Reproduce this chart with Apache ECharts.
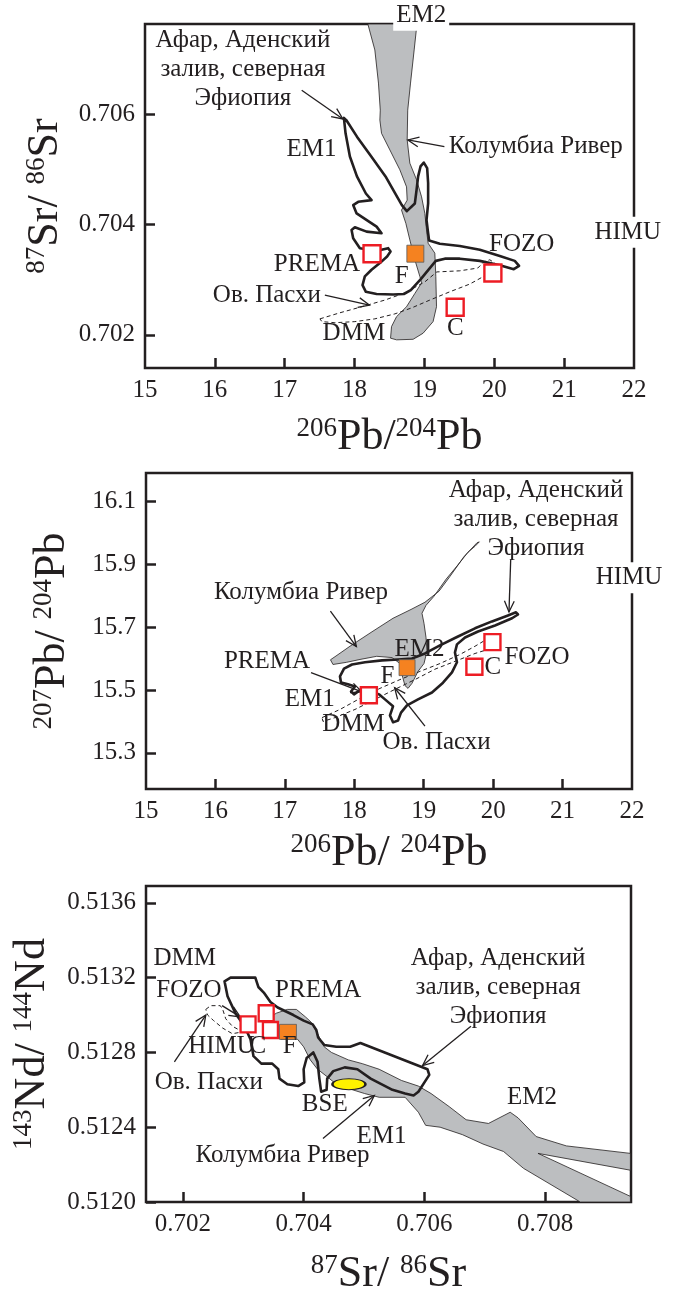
<!DOCTYPE html>
<html>
<head>
<meta charset="utf-8">
<script src="https://cdn.jsdelivr.net/npm/echarts@6/dist/echarts.min.js"></script>
<style>
  html, body { margin: 0; padding: 0; background: #fff; }
  #chart { width: 683px; height: 1292px; }
</style>
</head>
<body>
<div id="chart"></div>
<script>
// --- panel 1: 206Pb/204Pb vs 87Sr/86Sr ---
const srPbColumbia = [
  [18.19, 0.70763], [18.29, 0.70716], [18.342, 0.70656], [18.368, 0.70607], [18.362, 0.70589],
  [18.386, 0.70565], [18.505, 0.70535], [18.648, 0.70499], [18.744, 0.70468], [18.753, 0.70444],
  [18.672, 0.70426], [18.734, 0.70402], [18.791, 0.70372], [18.863, 0.70336], [18.934, 0.70306],
  [18.959, 0.70294], [18.863, 0.70275], [18.744, 0.70251], [18.601, 0.70233], [18.529, 0.70215],
  [18.515, 0.70194], [18.601, 0.70191], [18.838, 0.70192], [18.981, 0.70203], [19.124, 0.70224],
  [19.173, 0.70251], [19.163, 0.70306], [19.149, 0.70348], [19.053, 0.70366], [19.030, 0.70390],
  [19.006, 0.70420], [18.959, 0.70450], [18.887, 0.70481], [18.791, 0.70511], [18.753, 0.70553],
  [18.761, 0.70607], [18.801, 0.70656], [18.853, 0.70716], [18.893, 0.70763]
];
const srPbAfar = [
  [17.847, 0.70593], [17.881, 0.70589], [18.034, 0.70559], [18.239, 0.70523], [18.443, 0.70487],
  [18.577, 0.70457], [18.677, 0.70435], [18.748, 0.70424], [18.863, 0.70438], [18.887, 0.70462],
  [18.910, 0.70487], [18.944, 0.70505], [18.991, 0.70512], [19.039, 0.70502], [19.053, 0.70475],
  [19.053, 0.70438], [19.030, 0.70408], [19.053, 0.70384], [19.067, 0.70371], [19.220, 0.70365],
  [19.506, 0.70361], [19.793, 0.70354], [20.079, 0.70343], [20.293, 0.70334], [20.355, 0.70325],
  [20.279, 0.70319], [20.079, 0.70326], [19.793, 0.70334], [19.506, 0.70338], [19.292, 0.70338],
  [19.163, 0.70334], [19.077, 0.70321], [18.948, 0.70301], [18.805, 0.70281], [18.705, 0.70274],
  [18.552, 0.70273], [18.315, 0.70274], [18.162, 0.70278], [18.114, 0.70290], [18.147, 0.70306],
  [18.243, 0.70318], [18.362, 0.70330], [18.466, 0.70342], [18.515, 0.70351], [18.481, 0.70357],
  [18.386, 0.70354], [18.219, 0.70354], [18.076, 0.70357], [17.980, 0.70375], [17.957, 0.70390],
  [18.004, 0.70395], [18.172, 0.70387], [18.386, 0.70384], [18.315, 0.70396], [18.029, 0.70420],
  [17.980, 0.70435], [18.052, 0.70441], [18.243, 0.70444], [18.162, 0.70456], [18.034, 0.70487],
  [17.933, 0.70523], [17.871, 0.70565]
];
const srPbEaster = [
  [17.504, 0.70229], [17.790, 0.70240], [18.104, 0.70251], [18.433, 0.70263], [18.720, 0.70276],
  [19.006, 0.70296], [19.177, 0.70314], [19.506, 0.70316], [19.764, 0.70321], [19.850, 0.70332],
  [19.936, 0.70336], [20.007, 0.70330], [19.964, 0.70318], [19.864, 0.70307], [19.649, 0.70292],
  [19.363, 0.70278], [19.077, 0.70263], [18.820, 0.70249], [18.577, 0.70238], [18.290, 0.70229],
  [18.004, 0.70224], [17.718, 0.70222], [17.532, 0.70224]
];
const srPbRed = [[18.25, 0.70347], [19.98, 0.70312], [19.44, 0.70250]];
const srPbOrange = [[18.87, 0.70347]];
const srPbLabels = [
  [16.402, 0.70680, 'Афар, Аденский\nзалив, северная\nЭфиопия'],
  [17.383, 0.70535, 'EM1'],
  [20.594, 0.70541, 'Колумбиа Ривер'],
  [20.393, 0.70363, 'FOZO'],
  [17.461, 0.70327, 'PREMA'],
  [18.674, 0.70306, 'F'],
  [16.745, 0.70272, 'Ов. Пасхи'],
  [17.990, 0.70203, 'DMM'],
  [19.441, 0.70212, 'C']
];
const srPbBoxedLabels = [
  [18.954, 0.70779, 'EM2'],
  [21.910, 0.70386, 'HIMU']
];
const srPbArrows = [
  [17.243, 0.70643, 17.833, 0.70591],
  [19.286, 0.70541, 18.763, 0.70553],
  [17.575, 0.70272, 18.213, 0.70254]
];
const srPbXTicks = [16, 17, 18, 19, 20, 21];
const srPbXLabels = [15, 16, 17, 18, 19, 20, 21, 22];
const srPbYTicks = [0.702, 0.704, 0.706];

// --- panel 2: 206Pb/204Pb vs 207Pb/204Pb ---
const pbPbColumbia = [
  [17.657, 15.596], [17.693, 15.581], [17.891, 15.588], [18.082, 15.597], [18.323, 15.607],
  [18.543, 15.603], [18.658, 15.584], [18.687, 15.549], [18.730, 15.514], [18.774, 15.505],
  [18.831, 15.521], [18.918, 15.559], [19.004, 15.584], [19.047, 15.623], [19.033, 15.667],
  [19.004, 15.712], [18.975, 15.744], [19.033, 15.769], [19.148, 15.798], [19.321, 15.852],
  [19.479, 15.894], [19.638, 15.938], [19.739, 15.957], [19.801, 15.971], [19.767, 15.968],
  [19.580, 15.924], [19.378, 15.861], [19.220, 15.814], [19.018, 15.779], [18.817, 15.756],
  [18.558, 15.728], [18.241, 15.683], [17.938, 15.639], [17.737, 15.608]
];
const pbPbAfar = [
  [17.794, 15.543], [17.852, 15.568], [17.967, 15.581], [18.154, 15.588], [18.399, 15.594],
  [18.630, 15.597], [18.831, 15.600], [19.019, 15.616], [19.234, 15.642], [19.494, 15.670],
  [19.739, 15.696], [19.983, 15.718], [20.214, 15.737], [20.329, 15.747], [20.358, 15.740],
  [20.272, 15.728], [20.027, 15.705], [19.782, 15.686], [19.595, 15.667], [19.479, 15.645],
  [19.450, 15.619], [19.479, 15.588], [19.407, 15.556], [19.278, 15.523], [19.119, 15.492],
  [18.918, 15.470], [18.759, 15.451], [18.673, 15.428], [18.630, 15.403], [18.558, 15.397],
  [18.514, 15.419], [18.558, 15.448], [18.442, 15.470], [18.356, 15.486], [18.226, 15.498],
  [18.097, 15.502], [17.996, 15.486], [17.953, 15.495], [18.010, 15.511], [17.909, 15.518],
  [17.809, 15.524]
];
const pbPbEaster = [
  [17.535, 15.412], [17.794, 15.438], [18.082, 15.473], [18.370, 15.505], [18.658, 15.533],
  [18.946, 15.559], [19.234, 15.584], [19.523, 15.613], [19.739, 15.639], [19.883, 15.658],
  [19.955, 15.661], [19.998, 15.645], [19.926, 15.629], [19.739, 15.616], [19.450, 15.591],
  [19.162, 15.566], [18.874, 15.533], [18.586, 15.502], [18.298, 15.470], [18.010, 15.438],
  [17.722, 15.412], [17.549, 15.400]
];
const pbPbRed = [[18.21, 15.483], [19.99, 15.652], [19.73, 15.574]];
const pbPbOrange = [[18.76, 15.571]];
const pbPbLabels = [
  [20.617, 16.043, 'Афар, Аденский\nзалив, северная\nЭфиопия'],
  [17.232, 15.810, 'Колумбиа Ривер'],
  [16.743, 15.592, 'PREMA'],
  [17.359, 15.470, 'EM1'],
  [17.990, 15.390, 'DMM'],
  [19.186, 15.332, 'Ов. Пасхи'],
  [18.941, 15.629, 'EM2'],
  [18.478, 15.544, 'F'],
  [20.632, 15.603, 'FOZO'],
  [19.996, 15.571, 'C']
];
const pbPbBoxedLabels = [[21.957, 15.857, 'HIMU']];
const pbPbArrows = [
  [20.253, 15.916, 20.228, 15.748],
  [17.656, 15.751, 18.030, 15.638],
  [17.377, 15.555, 18.111, 15.494],
  [19.018, 15.385, 18.581, 15.507]
];
const pbPbXTicks = [16, 17, 18, 19, 20, 21];
const pbPbXLabels = [15, 16, 17, 18, 19, 20, 21, 22];
const pbPbYTicks = [15.3, 15.5, 15.7, 15.9, 16.1];

// --- panel 3: 87Sr/86Sr vs 143Nd/144Nd ---
const ndSrColumbia = [
  [0.70345, 0.51299], [0.70355, 0.51301], [0.70373, 0.51303], [0.70388, 0.51303], [0.70403, 0.51299],
  [0.70413, 0.51296], [0.70423, 0.51290], [0.70434, 0.51283], [0.70446, 0.51280], [0.70474, 0.51276],
  [0.70497, 0.51274], [0.70525, 0.51271], [0.70562, 0.51265], [0.70590, 0.51262], [0.70611, 0.51258],
  [0.70641, 0.51251], [0.70669, 0.51244], [0.70706, 0.51242], [0.70742, 0.51248], [0.70755, 0.51245],
  [0.70785, 0.51235], [0.70835, 0.51230], [0.70941, 0.51226], [0.70941, 0.51217], [0.70788, 0.51226],
  [0.70941, 0.51203], [0.70941, 0.51200], [0.70858, 0.51200], [0.70764, 0.51218], [0.70731, 0.51227],
  [0.70697, 0.51231], [0.70663, 0.51236], [0.70626, 0.51240], [0.70602, 0.51241], [0.70590, 0.51248],
  [0.70568, 0.51256], [0.70525, 0.51256], [0.70501, 0.51258], [0.70481, 0.51260], [0.70454, 0.51263],
  [0.70439, 0.51267], [0.70423, 0.51271], [0.70411, 0.51276], [0.70400, 0.51283], [0.70390, 0.51287],
  [0.70362, 0.51287], [0.70348, 0.51292]
];
const ndSrAfar = [
  [0.70269, 0.51318], [0.70279, 0.51320], [0.70320, 0.51320], [0.70325, 0.51315], [0.70334, 0.51312],
  [0.70345, 0.51307], [0.70357, 0.51304], [0.70383, 0.51300], [0.70400, 0.51297], [0.70415, 0.51295],
  [0.70421, 0.51292], [0.70424, 0.51288], [0.70434, 0.51284], [0.70454, 0.51283], [0.70477, 0.51283],
  [0.70494, 0.51285], [0.70605, 0.51271], [0.70608, 0.51268], [0.70590, 0.51259], [0.70582, 0.51257],
  [0.70568, 0.51258], [0.70547, 0.51260], [0.70511, 0.51266], [0.70489, 0.51271], [0.70468, 0.51272],
  [0.70449, 0.51270], [0.70439, 0.51266], [0.70438, 0.51260], [0.70429, 0.51259], [0.70426, 0.51266],
  [0.70423, 0.51275], [0.70416, 0.51280], [0.70405, 0.51277], [0.70400, 0.51271], [0.70401, 0.51264],
  [0.70391, 0.51262], [0.70373, 0.51263], [0.70360, 0.51266], [0.70358, 0.51271], [0.70348, 0.51274],
  [0.70330, 0.51274], [0.70317, 0.51278], [0.70312, 0.51287], [0.70302, 0.51294], [0.70287, 0.51301],
  [0.70274, 0.51310]
];
const ndSrEaster = [
  [0.70238, 0.51303], [0.70246, 0.51305], [0.70262, 0.51305], [0.70266, 0.51303], [0.70271, 0.51298],
  [0.70282, 0.51294], [0.70299, 0.51291], [0.70282, 0.51290], [0.70266, 0.51293], [0.70251, 0.51297],
  [0.70241, 0.51300]
];
const ndSrRed = [[0.70308, 0.51295], [0.70338, 0.51301], [0.70345, 0.51292]];
const ndSrOrange = [[0.70374, 0.51291]];
const ndSrBse = [[0.70475, 0.51263]];
const ndSrLabels = [
  [0.70722, 0.51315, 'Афар, Аденский\nзалив, северная\nЭфиопия'],
  [0.70203, 0.51330, 'DMM'],
  [0.70210, 0.51313, 'FOZO'],
  [0.70424, 0.51313, 'PREMA'],
  [0.70264, 0.51283, 'HIMU'],
  [0.70324, 0.51283, 'C'],
  [0.70377, 0.51283, 'F'],
  [0.70243, 0.51264, 'Ов. Пасхи'],
  [0.70435, 0.51252, 'BSE'],
  [0.70529, 0.51235, 'EM1'],
  [0.70365, 0.51225, 'Колумбиа Ривер'],
  [0.70778, 0.51256, 'EM2']
];
const ndSrArrows = [
  [0.70265, 0.51305, 0.70295, 0.51299],
  [0.70186, 0.51275, 0.70238, 0.51300],
  [0.70432, 0.51234, 0.70517, 0.51257],
  [0.70677, 0.51294, 0.70597, 0.51273]
];
const ndSrXTicks = [0.702, 0.704, 0.706, 0.708];
const ndSrYTicks = [0.5120, 0.5124, 0.5128, 0.5132, 0.5136];

const INK = '#231f20';
const FONT = '"Liberation Serif", "Times New Roman", serif';
const GRAY = '#bcbec0';

function titleStyle(mainSize, supSize) {
  return {
    color: INK, fontFamily: FONT,
    rich: {
      sup: { fontSize: supSize, fontFamily: FONT, color: INK, verticalAlign: 'top', lineHeight: mainSize },
      main: { fontSize: mainSize, fontFamily: FONT, color: INK, verticalAlign: 'bottom', lineHeight: mainSize }
    }
  };
}

function axis(gi, min, max, ticks, labels, digits, extra) {
  return Object.assign({
    type: 'value', gridIndex: gi, min: min, max: max,
    axisLine: { show: false },
    splitLine: { show: false },
    axisTick: { show: true, inside: true, length: 10, customValues: ticks, lineStyle: { color: INK, width: 2.5 } },
    axisLabel: {
      customValues: labels, color: INK, fontFamily: FONT, fontSize: 25, margin: 10,
      formatter: v => v.toFixed(digits)
    }
  }, extra);
}

function polygon(gi, pts, style, z) {
  return {
    type: 'custom', xAxisIndex: gi, yAxisIndex: gi, silent: true, z: z,
    data: [pts[0]],
    renderItem: (params, api) => ({
      type: 'polygon',
      shape: { points: pts.map(p => api.coord(p)) },
      style: style
    })
  };
}

function arrows(gi, list) {
  return {
    type: 'custom', xAxisIndex: gi, yAxisIndex: gi, silent: true, z: 4,
    data: list,
    renderItem: (params, api) => {
      const a = api.coord([api.value(0), api.value(1)]);
      const b = api.coord([api.value(2), api.value(3)]);
      const ang = Math.atan2(b[1] - a[1], b[0] - a[0]);
      const h = 12, s = 0.42;
      const p1 = [b[0] - h * Math.cos(ang - s), b[1] - h * Math.sin(ang - s)];
      const p2 = [b[0] - h * Math.cos(ang + s), b[1] - h * Math.sin(ang + s)];
      return {
        type: 'group',
        children: [
          { type: 'line', shape: { x1: a[0], y1: a[1], x2: b[0], y2: b[1] }, style: { stroke: INK, lineWidth: 1.3 } },
          { type: 'polyline', shape: { points: [p1, b, p2] }, style: { stroke: INK, lineWidth: 1.3, fill: null } }
        ]
      };
    }
  };
}

function labels(gi, list, boxed) {
  return {
    type: 'scatter', xAxisIndex: gi, yAxisIndex: gi, silent: true, clip: false, z: 7,
    symbolSize: 1, itemStyle: { color: 'rgba(0,0,0,0)', opacity: 1 },
    data: list.map(l => ({ value: [l[0], l[1]], name: l[2] })),
    label: {
      show: true, position: 'inside', formatter: '{b}', color: INK, fontFamily: FONT,
      fontSize: 25, lineHeight: 29, opacity: 1, textBorderWidth: 0,
      backgroundColor: boxed ? '#fff' : 'transparent', padding: boxed ? [1, 3] : 0
    }
  };
}

function squares(gi, list, filled, size) {
  return {
    type: 'scatter', xAxisIndex: gi, yAxisIndex: gi, silent: true, z: 5,
    symbol: 'rect', symbolSize: size, data: list,
    itemStyle: filled
      ? { color: '#f58220', borderColor: '#58595b', borderWidth: 0.8, opacity: 1 }
      : { color: '#fff', borderColor: '#ed1c24', borderWidth: 2.4, opacity: 1 }
  };
}

const fieldGray = { fill: GRAY, stroke: INK, lineWidth: 0.8 };
const fieldAfar = { fill: null, stroke: INK, lineWidth: 2.6, lineJoin: 'round' };
const fieldEaster = { fill: null, stroke: INK, lineWidth: 1, lineDash: [4, 3] };

const grid = { show: true, borderColor: INK, borderWidth: 2.5, backgroundColor: '#fff', outerBoundsMode: 'none' };

const option = {
  backgroundColor: '#fff',
  animation: false,
  grid: [
    Object.assign({ left: 145, top: 24, width: 489, height: 344 }, grid),
    Object.assign({ left: 146, top: 473, width: 486, height: 316 }, grid),
    Object.assign({ left: 146, top: 886, width: 485, height: 316 }, grid)
  ],
  xAxis: [
    axis(0, 15, 22, srPbXTicks, srPbXLabels, 0, {
      name: '{sup|206}{main|Pb/}{sup|204}{main|Pb}', nameLocation: 'middle', nameGap: 47,
      nameTextStyle: titleStyle(44, 27)
    }),
    axis(1, 15, 22, pbPbXTicks, pbPbXLabels, 0, {
      name: '{sup|206}{main|Pb/ }{sup|204}{main|Pb}', nameLocation: 'middle', nameGap: 42,
      nameTextStyle: titleStyle(44, 27)
    }),
    axis(2, 0.70139, 0.70942, ndSrXTicks, ndSrXTicks, 3, {
      name: '{sup|87}{main|Sr/ }{sup|86}{main|Sr}', nameLocation: 'middle', nameGap: 50,
      nameTextStyle: titleStyle(44, 27)
    })
  ],
  yAxis: [
    axis(0, 0.7014, 0.70763, srPbYTicks, srPbYTicks, 3, {
      name: '{sup|87}{main|Sr/ }{sup|86}{main|Sr}', nameLocation: 'middle', nameGap: 78, nameRotate: 90,
      nameTextStyle: titleStyle(44, 27)
    }),
    axis(1, 15.185, 16.19, pbPbYTicks, pbPbYTicks, 1, {
      name: '{sup|207}{main|Pb/ }{sup|204}{main|Pb}', nameLocation: 'middle', nameGap: 72, nameRotate: 90,
      nameTextStyle: titleStyle(44, 27)
    }),
    axis(2, 0.5120, 0.51369, ndSrYTicks, ndSrYTicks, 4, {
      name: '{sup|143}{main|Nd/ }{sup|144}{main|Nd}', nameLocation: 'middle', nameGap: 92, nameRotate: 90,
      nameTextStyle: titleStyle(44, 27)
    })
  ],
  series: [
    polygon(0, srPbColumbia, fieldGray, 1),
    polygon(0, srPbAfar, fieldAfar, 2),
    polygon(0, srPbEaster, fieldEaster, 3),
    arrows(0, srPbArrows),
    squares(0, srPbRed, false, 17),
    squares(0, srPbOrange, true, 17),
    labels(0, srPbLabels, false),
    labels(0, srPbBoxedLabels, true),

    polygon(1, pbPbColumbia, fieldGray, 1),
    polygon(1, pbPbAfar, fieldAfar, 2),
    polygon(1, pbPbEaster, fieldEaster, 3),
    arrows(1, pbPbArrows),
    squares(1, pbPbRed, false, 16),
    squares(1, pbPbOrange, true, 16),
    labels(1, pbPbLabels, false),
    labels(1, pbPbBoxedLabels, true),

    polygon(2, ndSrColumbia, fieldGray, 1),
    polygon(2, ndSrAfar, fieldAfar, 2),
    polygon(2, ndSrEaster, fieldEaster, 3),
    arrows(2, ndSrArrows),
    squares(2, ndSrRed, false, [15, 16]),
    squares(2, ndSrOrange, true, [17, 15]),
    {
      type: 'scatter', xAxisIndex: 2, yAxisIndex: 2, silent: true, z: 5,
      symbol: 'circle', symbolSize: [33, 11], data: ndSrBse,
      itemStyle: { color: '#fff200', borderColor: INK, borderWidth: 1.5, opacity: 1 }
    },
    labels(2, ndSrLabels, false)
  ]
};

const chart = echarts.init(document.getElementById('chart'), null, { renderer: 'canvas' });
chart.setOption(option);
</script>
</body>
</html>
